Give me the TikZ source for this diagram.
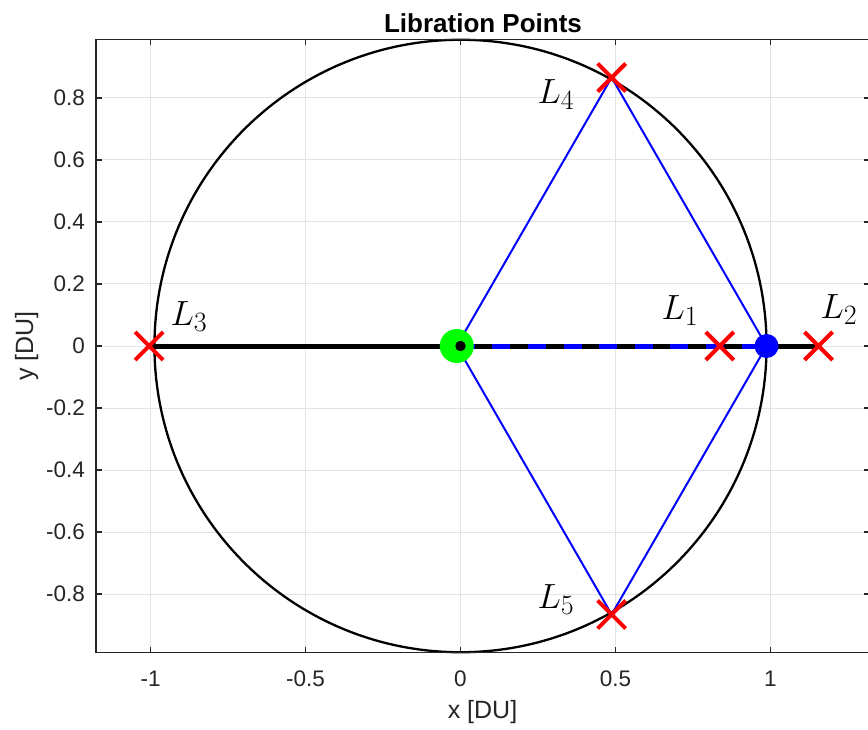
\RequirePackage{fix-cm}
\documentclass[tikz,border=0pt]{standalone}
\usepackage[no-math]{fontspec}
\setmainfont{Liberation Sans}
\DeclareMathSizes{35}{35}{28}{22}
\usetikzlibrary{shapes.misc}
\definecolor{axgray}{HTML}{262626}
\definecolor{gridgray}{HTML}{E3E3E3}
\definecolor{mred}{HTML}{FF0000}
\definecolor{mblue}{HTML}{0000FF}
\definecolor{mgreen}{HTML}{00FF00}
\begin{document}
\begin{tikzpicture}[x=1pt,y=-1pt,
  gridline/.style={draw=gridgray, line width=1pt},
  axisline/.style={draw=axgray, line width=1.2pt},
  ticklab/.style={font=\fontsize{22.5}{24}\selectfont, text=axgray, inner sep=0pt},
  axlab/.style={font=\fontsize{25}{27}\selectfont, text=axgray, inner sep=0pt},
  xmark/.style={cross out, draw=mred, line width=4pt, minimum size=24pt, inner sep=0pt},
  llab/.style={font=\fontsize{35}{38}\selectfont, inner sep=0pt},
  body/.style={circle, inner sep=0pt}]
\useasboundingbox (0,0) rectangle (868,730);
\fill[white] (0,0) rectangle (868,730);
% grid
\foreach \xv in {150.7,305.6,460.5,615.4,770.3}
  \draw[gridline] (\xv,39.8) -- (\xv,652.2);
\foreach \yv in {98,160,222,284,346,408,470,532,594}
  \draw[gridline] (96,\yv) -- (869,\yv);
% data
\begin{scope}[shift={(460.5,346)}, x=309.8pt, y=310pt]
  \coordinate (bary) at (0,0);
  \coordinate (pE) at (-0.01215,0);
  \coordinate (pM) at (0.98785,0);
  \coordinate (pL1) at (0.8369,0);
  \coordinate (pL2) at (1.1557,0);
  \coordinate (pL3) at (-1.00506,0);
  \coordinate (pL4) at (0.48785,0.86603);
  \coordinate (pL5) at (0.48785,-0.86603);
  \draw[black, line width=5pt] (pL3) -- (pL2);
  \draw[mblue, line width=5pt, dash pattern=on 18pt off 17.6pt] (pE) -- (pM);
  \draw[mblue, line width=2pt, line join=miter] (pE) -- (pL4) -- (pM) -- (pL5) -- cycle;
  \draw[black, line width=2.3pt] (bary) circle[radius=0.98785];
  \node[body, fill=mgreen, minimum size=34pt] (earth) at (pE) {};
  \node[body, fill=black, minimum size=10.5pt] (bc) at (bary) {};
  \node[body, fill=mblue, minimum size=24pt] (moon) at (pM) {};
  \node[xmark] (L1) at (pL1) {};
  \node[xmark] (L2) at (pL2) {};
  \node[xmark] (L3) at (pL3) {};
  \node[xmark] (L4) at (pL4) {};
  \node[xmark] (L5) at (pL5) {};
\end{scope}
% point labels
\node[llab] (tL1) at (680,311) {$L_1$};
\node[llab] (tL2) at (839,310) {$L_2$};
\node[llab] (tL3) at (189,317) {$L_3$};
\node[llab] (tL4) at (556,95) {$L_4$};
\node[llab] (tL5) at (556,600) {$L_5$};
% axes box and ticks
\draw[axisline] (96,39.8) rectangle (869,652.2);
\foreach \xv/\lab in {150.7/-1,305.6/-0.5,460.5/0,615.4/0.5,770.3/1}{
  \draw[axisline] (\xv,652.2) -- (\xv,646.7);
  \draw[axisline] (\xv,39.8) -- (\xv,45.3);
  \node[ticklab, anchor=base] at (\xv,686) {\lab};
}
\foreach \yv/\lab in {98/0.8,160/0.6,222/0.4,284/0.2,346/0,408/-0.2,470/-0.4,532/-0.6,594/-0.8}{
  \draw[axisline] (96,\yv) -- (101.5,\yv);
  \draw[axisline] (869,\yv) -- (863.5,\yv);
  \node[ticklab, anchor=east] at (85,\yv) {\lab};
}
% titles
\node[font=\bfseries\fontsize{26}{28}\selectfont, anchor=base, inner sep=0pt] (title) at (483,32.3) {Libration Points};
\node[axlab, anchor=base] (xlab) at (482.5,718) {x [DU]};
\node[axlab, anchor=base, rotate=90] (ylab) at (33,346) {y [DU]};
\end{tikzpicture}
\end{document}
